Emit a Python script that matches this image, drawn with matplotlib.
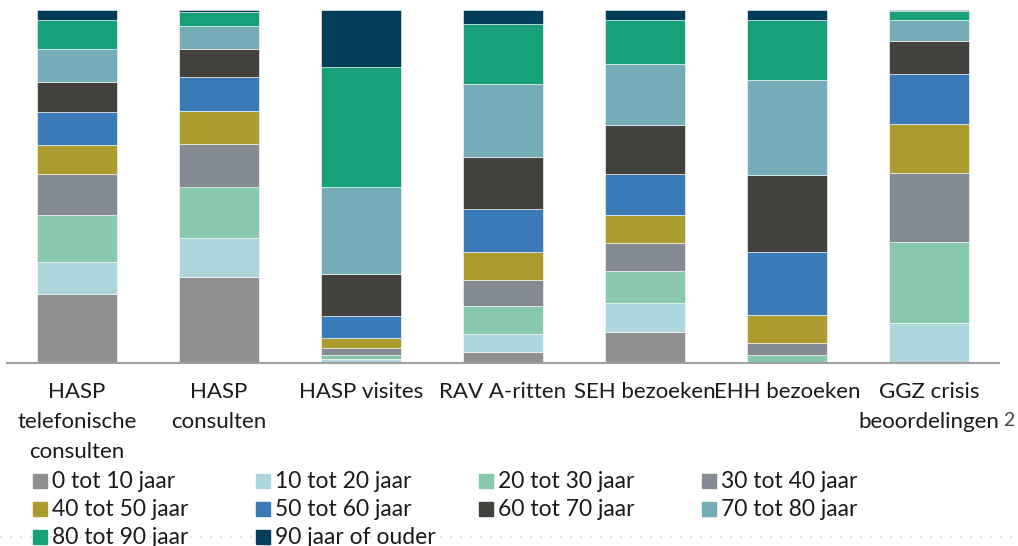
import numpy as np
import matplotlib.pyplot as plt
from matplotlib.lines import Line2D
from matplotlib.patches import Rectangle

plt.rcParams['font.family'] = ['Lato', 'DejaVu Sans']

categories = ['HASP\ntelefonische\nconsulten', 'HASP\nconsulten', 'HASP visites',
              'RAV A-ritten', 'SEH bezoeken', 'EHH bezoeken', 'GGZ crisis\nbeoordelingen']
age_groups = ['0 tot 10 jaar', '10 tot 20 jaar', '20 tot 30 jaar', '30 tot 40 jaar',
              '40 tot 50 jaar', '50 tot 60 jaar', '60 tot 70 jaar', '70 tot 80 jaar',
              '80 tot 90 jaar', '90 jaar of ouder']

# percentages per age group (rows) for each category (columns)
shares = np.array([
    [19.6, 24.3, 0.4, 3.2, 8.8, 0.0, 0.0],    # 0-10
    [9.0, 11.1, 0.7, 4.9, 8.1, 0.0, 11.3],    # 10-20
    [13.3, 14.7, 1.1, 7.9, 9.2, 2.2, 22.9],   # 20-30
    [11.5, 12.2, 2.1, 7.6, 8.0, 3.5, 19.6],   # 30-40
    [8.3, 9.1, 2.9, 7.9, 7.7, 7.8, 14.0],     # 40-50
    [9.4, 9.7, 6.0, 12.2, 11.6, 17.8, 14.2],  # 50-60
    [8.5, 8.0, 12.1, 14.6, 13.9, 22.0, 9.2],  # 60-70
    [9.3, 6.7, 24.5, 20.6, 17.3, 26.8, 6.2],  # 70-80
    [8.2, 3.8, 34.1, 17.0, 12.5, 17.0, 2.4],  # 80-90
    [2.8, 0.6, 16.1, 4.0, 2.8, 2.8, 0.3],     # 90+
])
colors = ['#918f8d', '#acd5dc', '#88c9ad', '#858b95', '#ac9b2e',
          '#3a7ab7', '#43413d', '#74adb8', '#17a07a', '#023d5a']

shares = shares / shares.sum(axis=0) * 100

W, H = 1018, 546
fig = plt.figure(figsize=(W / 100, H / 100), dpi=100)
ax = fig.add_axes([7 / W, 1 - 363 / H, 992 / W, 353 / H])

x = np.arange(len(categories))
bottom = np.zeros(len(categories))
for i in range(len(age_groups)):
    ax.bar(x, shares[i], 0.57, bottom=bottom, color=colors[i],
           edgecolor='white', linewidth=0.4)
    bottom += shares[i]

ax.set_xlim(-0.493, 6.493)
ax.set_ylim(0, 100)
ax.set_yticks([])
ax.set_xticks(x)
ax.set_xticklabels(categories, fontsize=16, color='#1a1a1a', linespacing=1.6)
ax.tick_params(axis='x', length=0, pad=14)
for s in ['top', 'right', 'left']:
    ax.spines[s].set_visible(False)
ax.spines['bottom'].set_color('#a0a0a0')
ax.spines['bottom'].set_linewidth(1.5)

fig.text(1009 / W, 1 - 421 / H, '2', fontsize=14, color='#444444', ha='center', va='center')

# legend laid out on a fixed grid, row by row
for k, label in enumerate(age_groups):
    row, col = divmod(k, 4)
    x0 = 33 + col * 223
    yc = 481 + row * 28
    fig.add_artist(Rectangle((x0 / W, 1 - (yc + 7) / H), 14 / W, 14 / H,
                             transform=fig.transFigure, color=colors[k]))
    fig.text((x0 + 19) / W, 1 - yc / H, label, fontsize=16.5, color='#1a1a1a',
             ha='left', va='center')

# dotted decoration along the bottom of the slide
fig.add_artist(Line2D([0.0, 1.0], [1 - 537 / H, 1 - 537 / H], color='#d8d8d8',
                      linestyle=(0, (1, 5)), linewidth=1.2, zorder=0))

fig.savefig('out.png', dpi=100)
